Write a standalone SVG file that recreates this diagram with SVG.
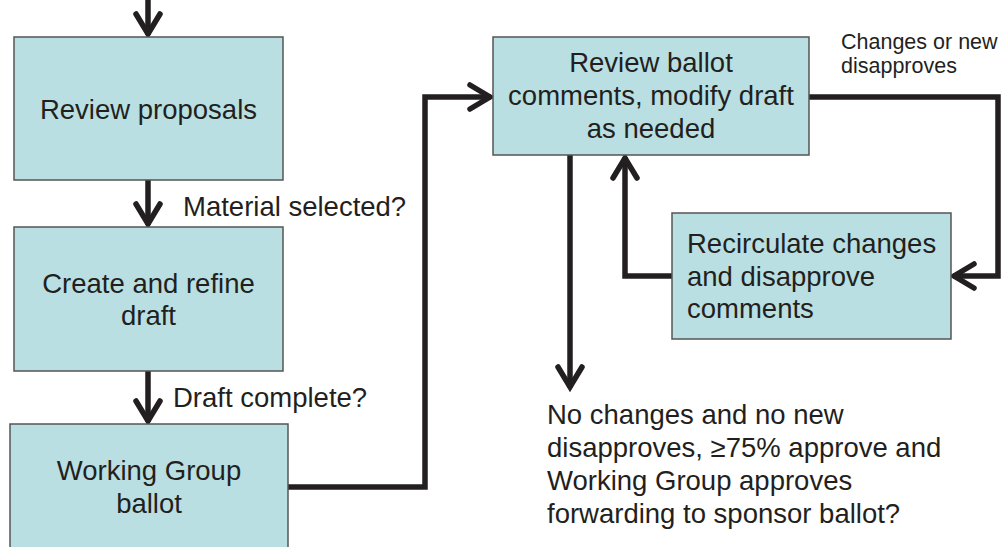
<svg xmlns="http://www.w3.org/2000/svg" width="1002" height="547" viewBox="0 0 1002 547">
  <defs>
    <style>
      .box { fill: #b9dfe2; stroke: #555555; stroke-width: 1.5; }
      .t { font-family: "Liberation Sans", Arial, sans-serif; font-size: 27.5px; fill: #231f20; }
      .c { text-anchor: middle; }
      .s { font-size: 21.5px; }
      .line { fill: none; stroke: #231f20; stroke-width: 5.5; stroke-linejoin: miter; }
    </style>
    <marker id="arr" markerUnits="userSpaceOnUse" viewBox="-30 -16 34 32" refX="0" refY="0" markerWidth="34" markerHeight="32" orient="auto" overflow="visible">
      <path d="M -21 -12 L -1 0 L -21 12" fill="none" stroke="#231f20" stroke-width="5.5" stroke-linecap="round" stroke-linejoin="miter"/>
    </marker>
  </defs>
  <rect width="1002" height="547" fill="#ffffff"/>

  <g id="connectors">
    <path class="line" d="M 148 0 L 148 35" marker-end="url(#arr)"/>
    <path class="line" d="M 148 180 L 148 225" marker-end="url(#arr)"/>
    <path class="line" d="M 148 371 L 148 422" marker-end="url(#arr)"/>
    <path class="line" d="M 288 487 L 425 487 L 425 97 L 491 97" marker-end="url(#arr)"/>
    <path class="line" d="M 809 97 L 998 97 L 998 276 L 953 276" marker-end="url(#arr)"/>
    <path class="line" d="M 672 276 L 625 276 L 625 157" marker-end="url(#arr)"/>
    <path class="line" d="M 570 155 L 570 388" marker-end="url(#arr)"/>
  </g>

  <g id="review-proposals">
    <rect class="box" x="14" y="37" width="269" height="143"/>
    <text class="t c" x="148.5" y="119">Review proposals</text>
  </g>

  <g id="label-material">
    <text class="t" x="183" y="216">Material selected?</text>
  </g>

  <g id="create-draft">
    <rect class="box" x="14" y="227" width="269" height="144"/>
    <text class="t c" x="148.5" y="293">Create and refine</text>
    <text class="t c" x="148.5" y="325">draft</text>
  </g>

  <g id="label-draft-complete">
    <text class="t" x="173" y="407">Draft complete?</text>
  </g>

  <g id="wg-ballot">
    <rect class="box" x="10" y="424" width="278" height="140"/>
    <text class="t c" x="149" y="480">Working Group</text>
    <text class="t c" x="149" y="513">ballot</text>
  </g>

  <g id="review-comments">
    <rect class="box" x="493" y="37" width="316" height="118"/>
    <text class="t c" x="651" y="72">Review ballot</text>
    <text class="t c" x="651" y="105">comments, modify draft</text>
    <text class="t c" x="651" y="138">as needed</text>
  </g>

  <g id="label-changes">
    <text class="t s" x="841" y="49">Changes or new</text>
    <text class="t s" x="841" y="73">disapproves</text>
  </g>

  <g id="recirculate">
    <rect class="box" x="672" y="213" width="279" height="126"/>
    <text class="t" x="687" y="253">Recirculate changes</text>
    <text class="t" x="687" y="286">and disapprove</text>
    <text class="t" x="687" y="318">comments</text>
  </g>

  <g id="label-final">
    <text class="t" x="547" y="424">No changes and no new</text>
    <text class="t" x="547" y="457">disapproves, ≥75% approve and</text>
    <text class="t" x="547" y="490">Working Group approves</text>
    <text class="t" x="547" y="523">forwarding to sponsor ballot?</text>
  </g>
</svg>
